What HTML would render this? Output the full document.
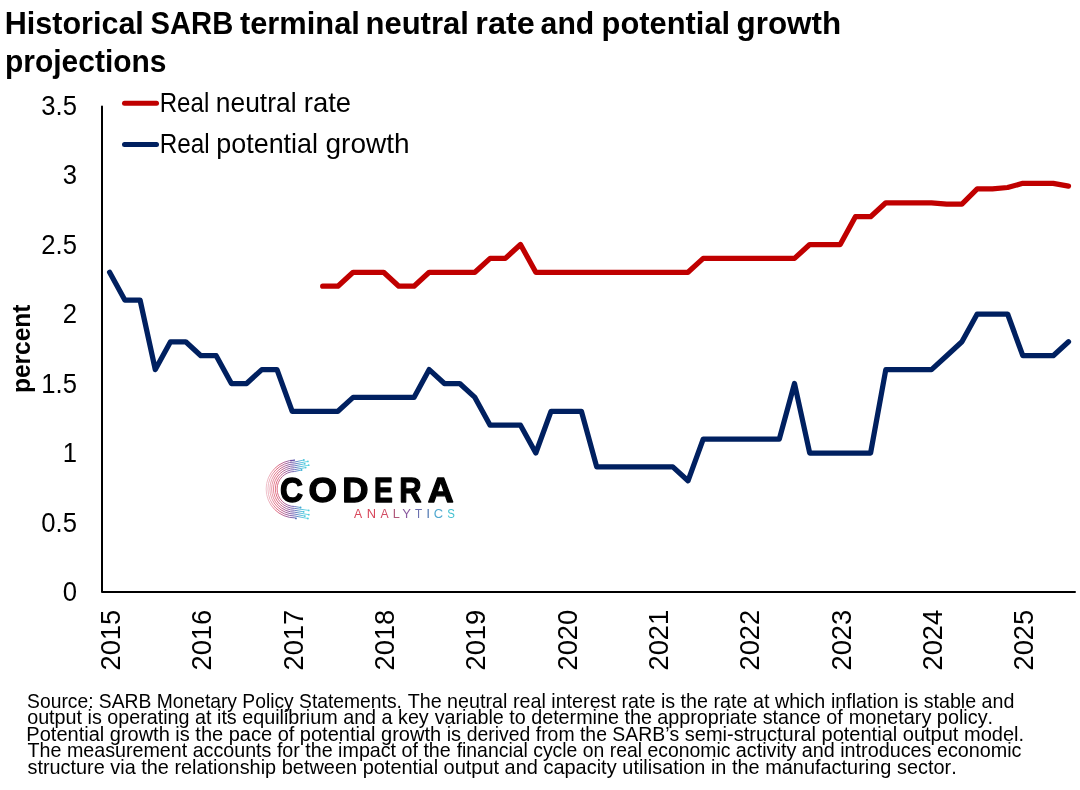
<!DOCTYPE html>
<html><head><meta charset="utf-8"><style>
html,body{margin:0;padding:0;background:#fff;width:1080px;height:790px;overflow:hidden}
svg{display:block;will-change:transform}
text{font-family:"Liberation Sans",sans-serif}
</style></head><body>
<svg width="1080" height="790" viewBox="0 0 1080 790">
<defs>
<linearGradient id="ig" gradientUnits="userSpaceOnUse" x1="264" y1="489" x2="306" y2="489">
<stop offset="0" stop-color="#f0ccd4"/><stop offset="0.15" stop-color="#e89aaa"/><stop offset="0.3" stop-color="#dc5068"/><stop offset="0.5" stop-color="#a04a88"/><stop offset="0.7" stop-color="#5a4aa8"/><stop offset="0.9" stop-color="#40b8d8"/><stop offset="1" stop-color="#50d0e0"/>
</linearGradient>
</defs>
<!-- title -->
<text transform="matrix(0.95388,0,0,1,4.76,33.80)" font-size="32" font-weight="bold" style="font-kerning:none">Historical</text><text transform="matrix(0.91283,0,0,1,150.56,33.80)" font-size="32" font-weight="bold" style="font-kerning:none">SARB</text><text transform="matrix(0.96447,0,0,1,239.92,33.80)" font-size="32" font-weight="bold" style="font-kerning:none">terminal</text><text transform="matrix(0.96958,0,0,1,365.45,33.80)" font-size="32" font-weight="bold" style="font-kerning:none">neutral</text><text transform="matrix(1.01441,0,0,1,475.26,33.80)" font-size="32" font-weight="bold" style="font-kerning:none">rate</text><text transform="matrix(0.94347,0,0,1,540.62,33.80)" font-size="32" font-weight="bold" style="font-kerning:none">and</text><text transform="matrix(0.96469,0,0,1,601.57,33.80)" font-size="32" font-weight="bold" style="font-kerning:none">potential</text><text transform="matrix(0.98119,0,0,1,736.51,33.80)" font-size="32" font-weight="bold" style="font-kerning:none">growth</text>
<text x="5" y="72" font-size="32" font-weight="bold" textLength="161.5" lengthAdjust="spacingAndGlyphs">projections</text>
<!-- axes -->
<path d="M102,106.5 V592 H1075" fill="none" stroke="#000" stroke-width="2" stroke-linejoin="round" stroke-linecap="round"/>
<!-- y labels -->
<g font-size="27.6" text-anchor="end"><text transform="translate(77,601.3) scale(0.93,1)">0</text><text transform="translate(77,531.8) scale(0.93,1)">0.5</text><text transform="translate(77,462.3) scale(0.93,1)">1</text><text transform="translate(77,392.8) scale(0.93,1)">1.5</text><text transform="translate(77,323.3) scale(0.93,1)">2</text><text transform="translate(77,253.8) scale(0.93,1)">2.5</text><text transform="translate(77,184.3) scale(0.93,1)">3</text><text transform="translate(77,114.8) scale(0.93,1)">3.5</text></g>
<!-- percent -->
<text transform="translate(30,393) rotate(-90)" font-size="25" font-weight="bold" textLength="88.5" lengthAdjust="spacingAndGlyphs">percent</text>
<!-- x labels -->
<g font-size="27.4"><text transform="translate(120.1,670.6) rotate(-90)">2015</text><text transform="translate(211.4,670.6) rotate(-90)">2016</text><text transform="translate(302.8,670.6) rotate(-90)">2017</text><text transform="translate(394.1,670.6) rotate(-90)">2018</text><text transform="translate(485.4,670.6) rotate(-90)">2019</text><text transform="translate(576.7,670.6) rotate(-90)">2020</text><text transform="translate(668.0,670.6) rotate(-90)">2021</text><text transform="translate(759.4,670.6) rotate(-90)">2022</text><text transform="translate(850.7,670.6) rotate(-90)">2023</text><text transform="translate(942.0,670.6) rotate(-90)">2024</text><text transform="translate(1033.3,670.6) rotate(-90)">2025</text></g>
<!-- legend -->
<line x1="124.5" y1="103.3" x2="156.5" y2="103.3" stroke="#c00000" stroke-width="5" stroke-linecap="round"/>
<line x1="124.5" y1="144.4" x2="156.5" y2="144.4" stroke="#002060" stroke-width="5" stroke-linecap="round"/>
<g font-size="27"><text transform="matrix(0.89284,0,0,1,159.72,112.00)" style="font-kerning:none" xml:space="preserve">Real </text><text transform="matrix(0.97716,0,0,1,215.85,112.00)" style="font-kerning:none" xml:space="preserve">neutral </text><text transform="matrix(1.01534,0,0,1,303.78,112.00)" style="font-kerning:none" xml:space="preserve">rate</text><text transform="matrix(0.89999,0,0,1,159.71,152.80)" style="font-kerning:none" xml:space="preserve">Real </text><text transform="matrix(0.99747,0,0,1,216.26,152.80)" style="font-kerning:none" xml:space="preserve">potential </text><text transform="matrix(1.03772,0,0,1,325.52,152.80)" style="font-kerning:none" xml:space="preserve">growth</text></g>
<!-- series -->
<polyline points="322.7,286.2 337.9,286.2 353.1,272.3 368.4,272.3 383.6,272.3 398.8,286.2 414.0,286.2 429.2,272.3 444.4,272.3 459.7,272.3 474.9,272.3 490.1,258.4 505.3,258.4 520.5,244.5 535.8,272.3 551.0,272.3 566.2,272.3 581.4,272.3 596.7,272.3 611.9,272.3 627.1,272.3 642.3,272.3 657.5,272.3 672.8,272.3 688.0,272.3 703.2,258.4 718.4,258.4 733.6,258.4 748.9,258.4 764.1,258.4 779.3,258.4 794.5,258.4 809.7,244.5 825.0,244.5 840.2,244.5 855.4,216.7 870.6,216.7 885.8,202.8 901.1,202.8 916.3,202.8 931.5,202.8 946.7,204.2 961.9,204.2 977.2,188.9 992.4,188.9 1007.6,187.5 1022.8,183.3 1038.0,183.3 1053.2,183.3 1068.5,186.1" fill="none" stroke="#c00000" stroke-width="5.25" stroke-linejoin="round" stroke-linecap="round"/>
<polyline points="109.6,272.3 124.8,300.1 140.1,300.1 155.3,369.6 170.5,341.8 185.7,341.8 200.9,355.7 216.2,355.7 231.4,383.5 246.6,383.5 261.8,369.6 277.0,369.6 292.2,411.3 307.5,411.3 322.7,411.3 337.9,411.3 353.1,397.4 368.4,397.4 383.6,397.4 398.8,397.4 414.0,397.4 429.2,369.6 444.4,383.5 459.7,383.5 474.9,397.4 490.1,425.2 505.3,425.2 520.5,425.2 535.8,453.0 551.0,411.3 566.2,411.3 581.4,411.3 596.7,466.9 611.9,466.9 627.1,466.9 642.3,466.9 657.5,466.9 672.8,466.9 688.0,480.8 703.2,439.1 718.4,439.1 733.6,439.1 748.9,439.1 764.1,439.1 779.3,439.1 794.5,383.5 809.7,453.0 825.0,453.0 840.2,453.0 855.4,453.0 870.6,453.0 885.8,369.6 901.1,369.6 916.3,369.6 931.5,369.6 946.7,355.7 961.9,341.8 977.2,314.0 992.4,314.0 1007.6,314.0 1022.8,355.7 1038.0,355.7 1053.2,355.7 1068.5,341.8" fill="none" stroke="#002060" stroke-width="5.25" stroke-linejoin="round" stroke-linecap="round"/>
<!-- logo -->
<g fill="none" stroke="url(#ig)" stroke-width="0.85"><path d="M301.6,470.0 L294.6,471.5 A17.5,17.5 0 0 0 294.6,506.5 L300.6,507.5"/><path d="M305.7,467.6 L294.7,469.6 A19.4,19.4 0 0 0 294.7,508.4 L308.7,510.4"/><path d="M308.7,465.2 L294.7,467.7 A21.3,21.3 0 0 0 294.7,510.3 L303.7,511.8"/><path d="M304.8,463.8 L294.8,465.8 A23.2,23.2 0 0 0 294.8,512.2 L308.8,514.7"/><path d="M307.9,461.4 L294.9,463.9 A25.1,25.1 0 0 0 294.9,514.1 L304.9,516.1"/><path d="M303.9,460.0 L294.9,462.0 A27.0,27.0 0 0 0 294.9,516.0 L307.9,518.5"/><path d="M291.0,460.6 L295.0,460.1 A28.9,28.9 0 0 0 295.0,517.9 L296.0,518.4"/></g><g fill="url(#ig)"><circle cx="301.6" cy="470.0" r="0.9"/><circle cx="300.6" cy="507.5" r="0.9"/><circle cx="305.7" cy="467.6" r="0.9"/><circle cx="308.7" cy="510.4" r="0.9"/><circle cx="308.7" cy="465.2" r="0.9"/><circle cx="303.7" cy="511.8" r="0.9"/><circle cx="304.8" cy="463.8" r="0.9"/><circle cx="308.8" cy="514.7" r="0.9"/><circle cx="307.9" cy="461.4" r="0.9"/><circle cx="304.9" cy="516.1" r="0.9"/><circle cx="303.9" cy="460.0" r="0.9"/><circle cx="307.9" cy="518.5" r="0.9"/><circle cx="291.0" cy="460.6" r="0.9"/><circle cx="296.0" cy="518.4" r="0.9"/></g>
<text transform="matrix(0.8904,0,0,1,279.94,502.25)" font-size="35.90" font-weight="bold" style="fill:#000;stroke:#000;stroke-width:1.3;stroke-linejoin:round">C</text><text transform="matrix(1.0222,0,0,1,308.44,502.25)" font-size="35.90" font-weight="bold" style="fill:#000;stroke:#000;stroke-width:1.3;stroke-linejoin:round">O</text><text transform="matrix(1.0128,0,0,1,342.22,502.25)" font-size="35.90" font-weight="bold" style="fill:#000;stroke:#000;stroke-width:1.3;stroke-linejoin:round">D</text><text transform="matrix(0.7844,0,0,1,373.97,502.25)" font-size="35.90" font-weight="bold" style="fill:#000;stroke:#000;stroke-width:1.3;stroke-linejoin:round">E</text><text transform="matrix(0.8601,0,0,1,399.18,502.25)" font-size="35.90" font-weight="bold" style="fill:#000;stroke:#000;stroke-width:1.3;stroke-linejoin:round">R</text><text transform="matrix(1.0006,0,0,1,427.76,502.25)" font-size="35.90" font-weight="bold" style="fill:#000;stroke:#000;stroke-width:1.3;stroke-linejoin:round">A</text>
<text transform="matrix(0.9660,0,0,1,354.08,518.30)" font-size="12.65" font-weight="normal" style="fill:#d8465a;stroke-linejoin:round">A</text><text transform="matrix(1.0193,0,0,1,366.74,518.30)" font-size="12.65" font-weight="normal" style="fill:#d8465a;stroke-linejoin:round">N</text><text transform="matrix(0.9660,0,0,1,380.58,518.30)" font-size="12.65" font-weight="normal" style="fill:#d24c64;stroke-linejoin:round">A</text><text transform="matrix(1.0044,0,0,1,392.76,518.30)" font-size="12.65" font-weight="normal" style="fill:#b0587a;stroke-linejoin:round">L</text><text transform="matrix(1.0281,0,0,1,402.21,518.30)" font-size="12.65" font-weight="normal" style="fill:#8a5aa0;stroke-linejoin:round">Y</text><text transform="matrix(0.9231,0,0,1,414.94,518.30)" font-size="12.65" font-weight="normal" style="fill:#6a70b0;stroke-linejoin:round">T</text><text transform="matrix(1.2719,0,0,1,425.92,518.30)" font-size="12.65" font-weight="normal" style="fill:#7090c0;stroke-linejoin:round">I</text><text transform="matrix(1.0239,0,0,1,433.84,518.30)" font-size="12.65" font-weight="normal" style="fill:#50a8d0;stroke-linejoin:round">C</text><text transform="matrix(0.9066,0,0,1,447.28,518.30)" font-size="12.65" font-weight="normal" style="fill:#40c0d0;stroke-linejoin:round">S</text>
<!-- footnote -->
<g font-size="20">
<text transform="matrix(0.96435,0,0,1,27.12,707.70)" style="font-kerning:none" xml:space="preserve">Source: SARB Monetary Policy Statements. </text><text transform="matrix(0.98630,0,0,1,407.66,707.70)" style="font-kerning:none" xml:space="preserve">The neutral real interest rate is the rate at which </text><text transform="matrix(0.98284,0,0,1,830.89,707.70)" style="font-kerning:none" xml:space="preserve">inflation is stable and</text><text transform="matrix(0.98788,0,0,1,27.17,724.20)" style="font-kerning:none" xml:space="preserve">output is operating at its equilibrium and a key </text><text transform="matrix(0.98787,0,0,1,434.63,724.20)" style="font-kerning:none" xml:space="preserve">variable to determine the appropriate stance of </text><text transform="matrix(0.99255,0,0,1,848.68,724.20)" style="font-kerning:none" xml:space="preserve">monetary policy.</text><text transform="matrix(1.00011,0,0,1,26.36,740.70)" style="font-kerning:none" xml:space="preserve">Potential growth is the pace of potential growth is </text><text transform="matrix(0.97125,0,0,1,466.68,740.70)" style="font-kerning:none" xml:space="preserve">derived from the SARB’s </text><text transform="matrix(1.00157,0,0,1,684.74,740.70)" style="font-kerning:none" xml:space="preserve">semi-structural potential output model.</text><text transform="matrix(0.98461,0,0,1,27.56,757.20)" style="font-kerning:none" xml:space="preserve">The measurement accounts for the impact of the </text><text transform="matrix(0.96989,0,0,1,456.63,757.20)" style="font-kerning:none" xml:space="preserve">financial cycle on real economic </text><text transform="matrix(0.98903,0,0,1,735.86,757.20)" style="font-kerning:none" xml:space="preserve">activity and introduces economic</text><text transform="matrix(0.99448,0,0,1,27.45,773.70)" style="font-kerning:none" xml:space="preserve">structure via the relationship </text><text transform="matrix(0.99775,0,0,1,281.71,773.70)" style="font-kerning:none" xml:space="preserve">between potential output and capacity </text><text transform="matrix(0.99667,0,0,1,622.31,773.70)" style="font-kerning:none" xml:space="preserve">utilisation in the manufacturing sector.</text>
</g>
</svg>
</body></html>
